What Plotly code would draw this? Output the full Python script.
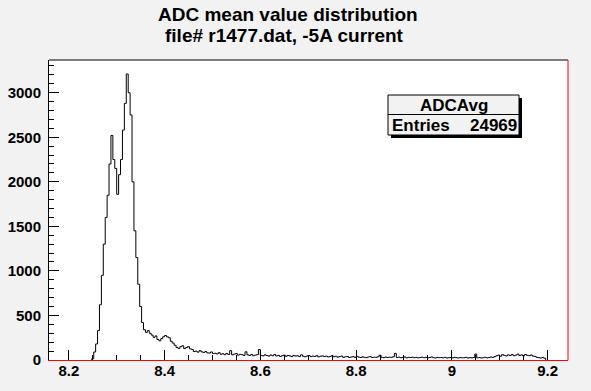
import plotly.graph_objects as go

# ---------------- data ----------------
bin_start = 8.248
bin_width = 0.004
counts = [
    15, 90, 180, 330, 620, 950, 1300, 1600, 1850, 2200,
    2520, 2250, 2150, 1860, 2080, 2250, 2580, 2880, 3210, 3000,
    2750, 2000, 1450, 1150, 850, 600, 420, 340, 310, 330,
    300,
    280, 255, 270, 230, 215, 240, 260, 275, 260, 250,
    210, 190, 165, 140, 130, 150, 160, 128, 140, 150,
    125, 118, 95, 100, 88, 105, 92, 85, 95, 80,
    78, 90, 72, 76, 68, 82, 65, 70, 60, 74,
    62, 105, 58, 66, 72, 55, 64, 60, 52, 92,
    58, 50, 62, 48, 55, 60, 118, 52, 46, 58,
    50, 44, 56, 48, 62, 45, 52, 40, 48, 55,
    42, 50, 46, 38, 52, 44, 48, 40, 58, 42,
    36, 45, 50, 38, 44, 40, 48, 35, 42, 46,
    38, 44, 34, 40, 48, 36, 42, 32, 38, 44,
    30, 36, 40, 28, 34, 38, 30, 42, 32, 28,
    36, 30, 26, 34, 38, 28, 32, 30, 36, 54,
    30, 26, 34, 28, 32, 30, 36, 75, 28, 32,
    26, 30, 34, 24, 30, 28, 32, 26, 30, 24,
    28, 32, 26, 30, 24, 28, 34, 26, 22, 30,
    26, 28, 24, 30, 22, 26, 28, 24, 30, 26,
    22, 28, 24, 26, 30, 22, 26, 24, 28, 67,
    24, 28, 22, 26, 30, 24, 28, 34, 30, 38,
    48, 55, 42, 60, 52, 45, 58, 50, 62, 48,
    55, 66, 50, 58, 46, 62, 52, 48, 56, 44,
    40, 30, 26, 22, 28, 20,
]
x_range = [8.1586, 9.2426]
y_range = [0, 3367]
title_line1 = "ADC mean value distribution"
title_line2 = "file# r1477.dat, -5A current"
stats_name = "ADCAvg"
stats_label = "Entries"
stats_entries = "24969"

# ---------------- geometry ----------------
W, H = 591, 391
L, R, T, B = 49, 568, 60, 360
BG = "#f2f2f2"
FONT = "Liberation Sans, Arial, Helvetica, sans-serif"


def px(x):
    return (x - L) / (R - L)


def py(y):
    return (B - y) / (B - T)


n = len(counts)
edges = [bin_start + bin_width * k for k in range(n + 1)]
xs = [edges[0]] + edges[:n] + [edges[n]]
ys = [0] + counts + [0]

fig = go.Figure()
fig.add_trace(go.Scatter(
    x=xs, y=ys, mode="lines", line=dict(color="black", width=1, shape="hv"),
    hoverinfo="skip", showlegend=False,
))

tickfont = dict(family=FONT, size=15, color="black", weight="bold")

fig.update_layout(
    width=W, height=H, autosize=False,
    margin=dict(l=L, r=W - R, t=T, b=H - B, pad=0, autoexpand=False),
    paper_bgcolor=BG, plot_bgcolor="white",
    showlegend=False,
    xaxis=dict(
        range=x_range, showgrid=False, zeroline=False, automargin=False,
        showline=True, linecolor="red", linewidth=1,
        ticks="inside", ticklen=10, tickcolor="black", tickwidth=1,
        tick0=8.2, dtick=0.2, tickfont=tickfont,
        minor=dict(ticks="inside", ticklen=5, dtick=0.05, tickcolor="black", tickwidth=1, showgrid=False),
        ticklabelstandoff=-3,
    ),
    yaxis=dict(
        range=y_range, showgrid=False, zeroline=False, automargin=False,
        showline=True, linecolor="black", linewidth=1,
        ticks="inside", ticklen=10, tickcolor="black", tickwidth=1,
        tick0=0, dtick=500, tickfont=tickfont,
        minor=dict(ticks="inside", ticklen=5, dtick=100, tickcolor="black", tickwidth=1, showgrid=False),
        ticklabelstandoff=4,
    ),
)

shapes = [
    # top frame edge (black) and right frame edge (red)
    dict(type="line", xref="paper", yref="paper", x0=0, x1=1, y0=1, y1=1,
         line=dict(color="black", width=1)),
    dict(type="line", xref="paper", yref="paper", x0=1, x1=1, y0=0, y1=1,
         line=dict(color="red", width=1)),
    # stats box shadow
    dict(type="rect", xref="paper", yref="paper", x0=px(391), x1=px(522), y0=py(138), y1=py(98),
         fillcolor="black", line=dict(width=0)),
    # stats box
    dict(type="rect", xref="paper", yref="paper", x0=px(388), x1=px(519), y0=py(135), y1=py(95),
         fillcolor=BG, line=dict(color="black", width=1)),
    dict(type="line", xref="paper", yref="paper", x0=px(388), x1=px(519), y0=py(114.5), y1=py(114.5),
         line=dict(color="black", width=1)),
]
fig.update_layout(shapes=shapes)

titlefont = dict(family=FONT, size=19, color="black", weight="bold")
statfont = dict(family=FONT, size=17, color="black", weight="bold")
annots = [
    dict(text=title_line1, x=px(288), y=py(14), xref="paper", yref="paper",
         xanchor="center", yanchor="middle", showarrow=False, font=titlefont),
    dict(text=title_line2, x=px(284), y=py(35), xref="paper", yref="paper",
         xanchor="center", yanchor="middle", showarrow=False, font=titlefont),
    dict(text=stats_name, x=px(453.5), y=py(105), xref="paper", yref="paper",
         xanchor="center", yanchor="middle", showarrow=False, font=statfont),
    dict(text=stats_label, x=px(390), y=py(125), xref="paper", yref="paper",
         xanchor="left", yanchor="middle", showarrow=False, font=statfont),
    dict(text=stats_entries, x=px(519), y=py(125), xref="paper", yref="paper",
         xanchor="right", yanchor="middle", showarrow=False, font=statfont),
]
fig.update_layout(annotations=annots)

fig.write_html(
    "out.html",
    config={"displayModeBar": False},
    post_script="document.body.style.margin='0';document.body.style.background='#f2f2f2';",
)
